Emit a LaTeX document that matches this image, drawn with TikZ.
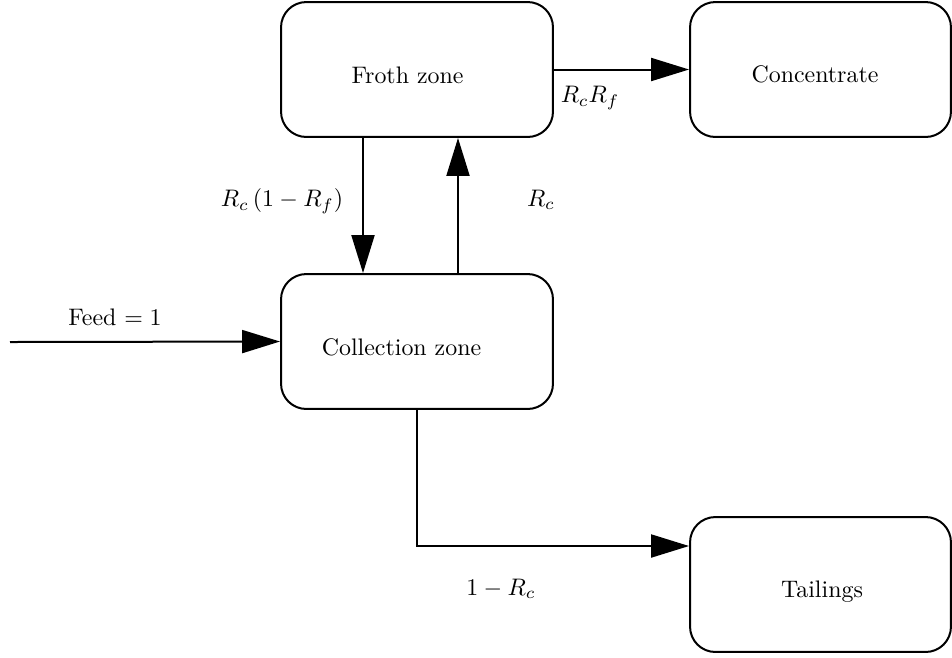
\documentclass[tikz,border=0pt]{standalone}
\usetikzlibrary{arrows.meta,calc}
\begin{document}
\begin{tikzpicture}[x=0.435pt,y=-0.435pt,
  zone/.style={draw,line width=0.87pt,rounded corners=11pt,inner sep=0pt,
               minimum height=58.7pt},
  bigzone/.style={zone,minimum width=118.3pt},
  outzone/.style={zone,minimum width=113.5pt},
  flow/.style={line width=0.87pt,-{Triangle[length=16.5pt,width=10pt]}},
  lbl/.style={inner sep=0pt,scale=1.04,transform shape}]
\useasboundingbox (0,0) rectangle (952,657);

% process boxes
\node[bigzone] (froth) at (417,69.5) {};
\node[outzone] (conc)  at (820.5,69.5) {};
\node[bigzone] (coll)  at (417,341.5) {};
\node[outzone] (tail)  at (820.5,584.5) {};

% box captions
\node[lbl] at (407.5,75) {Froth zone};
\node[lbl] at (815,74) {Concentrate};
\node[lbl] at (401.5,347.5) {Collection zone};
\node[lbl] at (822,592) {Tailings};

% streams
\coordinate (feedin) at (10,342);
\draw[flow] (feedin) -- (coll.west);
\draw[flow] (froth.east) -- (conc.west);
\draw[flow] ($(froth.south)+(-54,0)$) -- ($(coll.north)+(-54,0)$);
\draw[flow] ($(coll.north)+(41,0)$) -- ($(froth.south)+(41,0)$);
\draw[flow] (coll.south) |- ($(tail.west)+(0,-38.5)$);

% stream labels
\node[lbl] at (115,317) {Feed $=1$};
\node[lbl] at (590,98) {$R_cR_f$};
\node[lbl] at (282,201) {$R_c\,(1-R_f)$};
\node[lbl] at (541,200) {$R_c$};
\node[lbl] at (501,589) {$1-R_c$};
\end{tikzpicture}
\end{document}
